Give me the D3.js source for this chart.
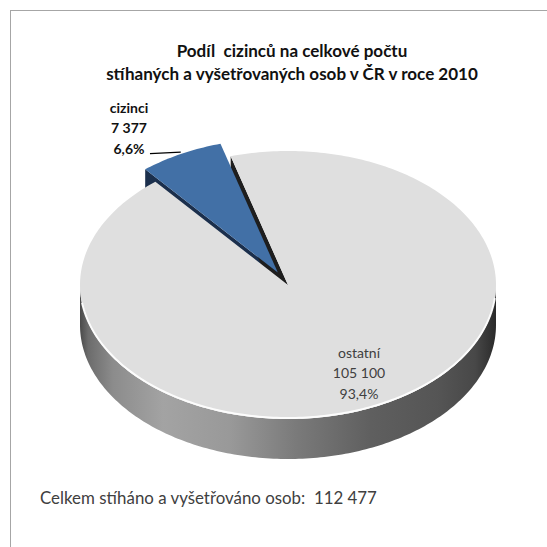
<!DOCTYPE html>
<html>
<head>
<meta charset="utf-8">
<script src="https://cdn.jsdelivr.net/npm/d3@7"></script>
<style>
  body { margin: 0; background: #fff; }
  text { font-family: Lato, "Open Sans", sans-serif; white-space: pre; }
</style>
</head>
<body>
<div id="chart"></div>
<script>
// data
const categories = ['ostatní', 'cizinci'];
const values = [105100, 7377];
const colors = ['#dfdfdf', '#4270a6'];
const faceColors = ['#1e1e1e', '#1b2f4c'];
const exploded = [0, 0.105];
const titleLines = ['Podíl  cizinců na celkové počtu', 'stíhaných a vyšetřovaných osob v ČR v roce 2010'];
const totalLabel = 'Celkem stíháno a vyšetřováno osob:  ';

const W = 547, H = 547;
const cx = 288, cy = 285, rx = 208, ry = 134, depth = 40;
const deg = Math.PI / 180;

const cz = d3.formatLocale({decimal: ',', thousands: '\u00a0', grouping: [3], currency: ['', ' Kč']});
const fmtNum = cz.format(',d'), fmtPct = cz.format('.1%');
const total = d3.sum(values);

let svg = d3.select('#chart').append('svg').attr('width', W).attr('height', H);
svg.append('rect')
  .attr('x', 10.5).attr('y', 10.5).attr('width', 580).attr('height', 580)
  .attr('fill', '#fff').attr('stroke', '#a6a6a6').attr('stroke-width', 1);

// projection of the unit circle onto the tilted ellipse
const sx = d3.scaleLinear().domain([-1, 1]).range([cx - rx, cx + rx]);
const sy = d3.scaleLinear().domain([-1, 1]).range([cy - ry, cy + ry]);
const pt = (a, r, off, z) => [sx(r * Math.sin(a)) + off[0], sy(-r * Math.cos(a)) + off[1] + z];
const rim = (a0, a1, off, z) => {
  const n = Math.max(2, Math.ceil(Math.abs(a1 - a0) / (1 * deg)));
  return d3.range(n + 1).map(i => pt(a0 + (a1 - a0) * i / n, 1, off, z));
};
const line = d3.line();

const pie = d3.pie().sort(null).startAngle(-16 * deg).endAngle(344 * deg);
const arcs = pie(values).map((d, i) => {
  const mid = (d.startAngle + d.endAngle) / 2;
  const e = exploded[i];
  d.off = [rx * e * Math.sin(mid), -ry * e * Math.cos(mid)];
  d.i = i;
  d.mid = mid;
  return d;
});

// side gradient
const grad = svg.append('defs').append('linearGradient')
  .attr('id', 'side').attr('gradientUnits', 'userSpaceOnUse')
  .attr('x1', cx - rx).attr('x2', cx + rx).attr('y1', 0).attr('y2', 0);
[[0, '#4a4a4a'], [0.02, '#6c6c6c'], [0.08, '#8c8c8c'], [0.2, '#a3a3a3'], [0.36, '#999999'],
 [0.52, '#7a7a7a'], [0.7, '#5f5f5f'], [0.86, '#555555'], [0.95, '#484848'], [1, '#2a2a2a']]
  .forEach(s => grad.append('stop').attr('offset', s[0]).attr('stop-color', s[1]));

let g = svg.append('g');

// radial cut faces that turn toward the viewer
arcs.slice().reverse().forEach(d => {
  [[d.startAngle, -Math.sin(d.startAngle) > 0], [d.endAngle, Math.sin(d.endAngle) > 0]].forEach(f => {
    if (!f[1]) return;
    const c0 = pt(0, 0, d.off, 0), r0 = pt(f[0], 1, d.off, 0);
    g.append('path')
      .attr('d', line([c0, r0, [r0[0], r0[1] + depth], [c0[0], c0[1] + depth]]) + 'Z')
      .attr('fill', faceColors[d.i]);
  });
});

// outer walls (front half only)
arcs.forEach(d => {
  const a0 = Math.max(d.startAngle, 90 * deg), a1 = Math.min(d.endAngle, 270 * deg);
  if (a1 <= a0) return;
  const top = rim(a0, a1, d.off, 0), bot = rim(a1, a0, d.off, depth);
  g.append('path').attr('d', line(top.concat(bot)) + 'Z')
    .attr('fill', d.i == 0 ? 'url(#side)' : d3.color(colors[d.i]).darker(1.2));
});

// top faces
arcs.forEach(d => {
  const c0 = pt(0, 0, d.off, 0);
  g.append('path').attr('d', line([c0].concat(rim(d.startAngle, d.endAngle, d.off, 0))) + 'Z')
    .attr('fill', colors[d.i]);
  const a0 = Math.max(d.startAngle, 96 * deg), a1 = Math.min(d.endAngle, 262 * deg);
  if (a1 > a0)
    g.append('path').attr('d', line(rim(a0, a1, d.off, -1)))
      .attr('fill', 'none').attr('stroke', '#fff').attr('stroke-width', 2).attr('stroke-opacity', 0.9);
});

// title
const title = svg.append('g').attr('font-weight', 'bold').attr('fill', '#111');
title.selectAll('text').data(titleLines).enter().append('text')
  .attr('x', 292).attr('y', (d, i) => 57 + i * 23)
  .attr('text-anchor', 'middle').attr('font-size', 16).text(d => d);
{
  const t = title.selectAll('text').nodes()[1];
  const fs = 16 * 372 / t.getComputedTextLength();
  title.selectAll('text').attr('font-size', fs);
}

// data labels
const labelPos = [[359, 358], [129, 113]];
arcs.forEach(d => {
  const lab = svg.append('text')
    .attr('text-anchor', 'middle').attr('font-size', 14)
    .attr('font-weight', d.i == 1 ? 'bold' : 'normal')
    .attr('fill', d.i == 1 ? '#111' : '#404040');
  [categories[d.i], fmtNum(values[d.i]), fmtPct(values[d.i] / total)].forEach((s, k) => {
    lab.append('tspan').attr('x', labelPos[d.i][0]).attr('y', labelPos[d.i][1] + k * 20.3).text(s);
  });
  if (d.i == 1) {
    const end = pt(d.mid, 1, d.off, 0);
    svg.append('line')
      .attr('x1', labelPos[1][0] + 21).attr('y1', labelPos[1][1] + 40.6)
      .attr('x2', end[0]).attr('y2', end[1] - 2)
      .attr('stroke', '#000').attr('stroke-width', 1.3);
  }
});

// total
const tot = svg.append('text').attr('x', 40).attr('y', 504)
  .attr('font-size', 15).attr('fill', '#404040')
  .text(totalLabel + fmtNum(total));
tot.attr('font-size', 15 * 337 / tot.node().getComputedTextLength());
</script>
</body>
</html>
